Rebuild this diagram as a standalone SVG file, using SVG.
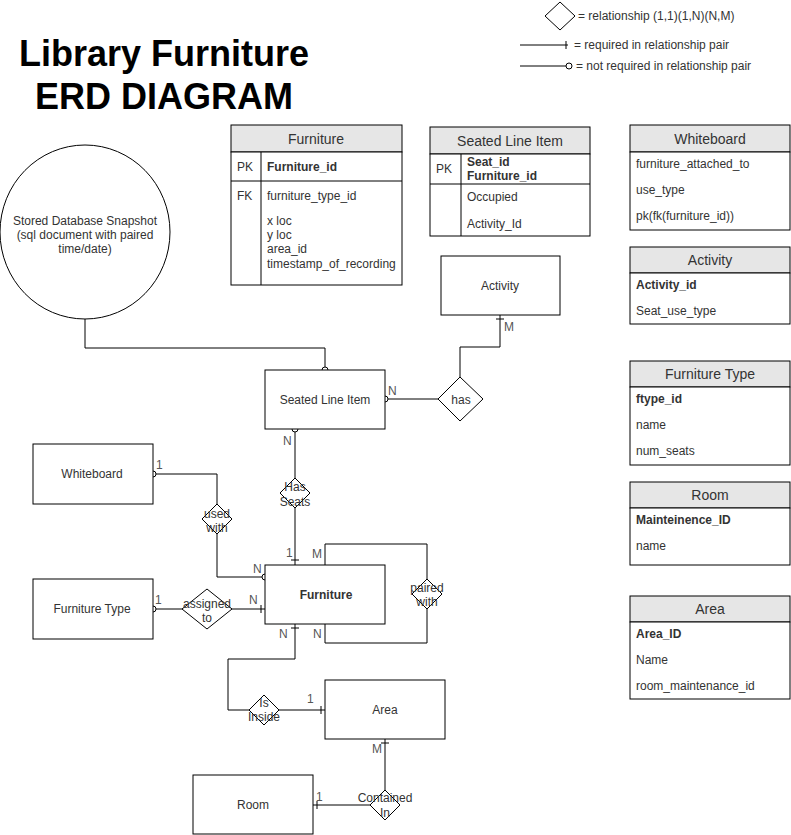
<svg xmlns="http://www.w3.org/2000/svg" width="791" height="835" viewBox="0 0 791 835">
<style>
  text { font-family: "Liberation Sans", Arial, sans-serif; font-size: 12px; fill: #333; }
  .title { font-size: 36px; font-weight: bold; fill: #000; text-anchor: middle; }
  .c { text-anchor: middle; }
  .b { font-weight: bold; }
  .hd { font-size: 14px; text-anchor: middle; }
  .lbl { fill: #555; }
  .box { fill: #fff; stroke: #000; stroke-width: 1; }
  .hdr { fill: #e6e6e6; stroke: #000; stroke-width: 1; }
  .ln { fill: none; stroke: #000; stroke-width: 1; }
  .dia { fill: #fff; stroke: #000; stroke-width: 1; }
  .oc { fill: #fff; stroke: #000; stroke-width: 1; }
</style>

<g id="title">
  <text class="title" x="164" y="66">Library Furniture</text>
  <text class="title" x="164" y="109">ERD DIAGRAM</text>
</g>

<g id="legend">
  <polygon class="dia" points="560,2 575,16 560,30 545,16"/>
  <text x="578" y="20">= relationship (1,1)(1,N)(N,M)</text>
  <line class="ln" x1="520" y1="45" x2="568" y2="45"/>
  <line class="ln" x1="566" y1="41" x2="566" y2="49"/>
  <text x="574" y="49">= required in relationship pair</text>
  <line class="ln" x1="520" y1="66" x2="566" y2="66"/>
  <circle class="oc" cx="569" cy="66" r="3"/>
  <text x="576" y="70">= not required in relationship pair</text>
</g>

<g id="table-furniture">
  <rect class="hdr" x="231" y="125" width="171" height="27"/>
  <text class="hd" x="316" y="144">Furniture</text>
  <rect class="box" x="231" y="152" width="171" height="133"/>
  <line class="ln" x1="231" y1="181" x2="402" y2="181"/>
  <line class="ln" x1="261" y1="152" x2="261" y2="285"/>
  <text x="237" y="171">PK</text>
  <text class="b" x="267" y="171">Furniture_id</text>
  <text x="237" y="200">FK</text>
  <text x="267" y="200">furniture_type_id</text>
  <text x="267" y="225">x loc</text>
  <text x="267" y="239">y loc</text>
  <text x="267" y="253">area_id</text>
  <text x="267" y="268">timestamp_of_recording</text>
</g>

<g id="table-seated">
  <rect class="hdr" x="430" y="127" width="160" height="27"/>
  <text class="hd" x="510" y="146">Seated Line Item</text>
  <rect class="box" x="430" y="154" width="160" height="82"/>
  <line class="ln" x1="430" y1="184" x2="590" y2="184"/>
  <line class="ln" x1="461" y1="154" x2="461" y2="236"/>
  <text x="436" y="173">PK</text>
  <text class="b" x="467" y="166">Seat_id</text>
  <text class="b" x="467" y="180">Furniture_id</text>
  <text x="467" y="201">Occupied</text>
  <text x="467" y="228">Activity_Id</text>
</g>

<g id="table-whiteboard">
  <rect class="hdr" x="630" y="125" width="160" height="27"/>
  <text class="hd" x="710" y="144">Whiteboard</text>
  <rect class="box" x="630" y="152" width="160" height="78"/>
  <text x="636" y="168">furniture_attached_to</text>
  <text x="636" y="194">use_type</text>
  <text x="636" y="220">pk(fk(furniture_id))</text>
</g>

<g id="table-activity">
  <rect class="hdr" x="630" y="247" width="160" height="26"/>
  <text class="hd" x="710" y="265">Activity</text>
  <rect class="box" x="630" y="273" width="160" height="51"/>
  <text class="b" x="636" y="289">Activity_id</text>
  <text x="636" y="315">Seat_use_type</text>
</g>

<g id="table-furniture-type">
  <rect class="hdr" x="630" y="361" width="160" height="26"/>
  <text class="hd" x="710" y="379">Furniture Type</text>
  <rect class="box" x="630" y="387" width="160" height="78"/>
  <text class="b" x="636" y="403">ftype_id</text>
  <text x="636" y="429">name</text>
  <text x="636" y="455">num_seats</text>
</g>

<g id="table-room">
  <rect class="hdr" x="630" y="482" width="160" height="26"/>
  <text class="hd" x="710" y="500">Room</text>
  <rect class="box" x="630" y="508" width="160" height="57"/>
  <text class="b" x="636" y="524">Mainteinence_ID</text>
  <text x="636" y="550">name</text>
</g>

<g id="table-area">
  <rect class="hdr" x="630" y="596" width="160" height="26"/>
  <text class="hd" x="710" y="614">Area</text>
  <rect class="box" x="630" y="622" width="160" height="77"/>
  <text class="b" x="636" y="638">Area_ID</text>
  <text x="636" y="664">Name</text>
  <text x="636" y="690">room_maintenance_id</text>
</g>

<g id="connectors">
  <!-- snapshot to seated line item -->
  <polyline class="ln" points="85,318 85,348 325,348 325,367"/>
  <!-- seated to has -->
  <line class="ln" x1="388" y1="399" x2="438" y2="399"/>
  <!-- has to activity -->
  <polyline class="ln" points="460,377 460,347 500,347 500,315"/>
  <line class="ln" x1="496" y1="319" x2="504" y2="319"/>
  <!-- seated to furniture via Has Seats -->
  <line class="ln" x1="295" y1="432" x2="295" y2="565"/>
  <line class="ln" x1="291" y1="560" x2="299" y2="560"/>
  <!-- whiteboard to furniture via used with -->
  <polyline class="ln" points="156,474 217,474 217,577 262,577"/>
  <!-- furniture type to furniture via assigned to -->
  <line class="ln" x1="156" y1="609" x2="265" y2="609"/>
  <line class="ln" x1="261" y1="605" x2="261" y2="613"/>
  <!-- paired with self loop -->
  <polyline class="ln" points="325,565 325,544 427,544 427,643 325,643 325,624"/>
  <!-- furniture to area via Is Inside -->
  <polyline class="ln" points="295,624 295,659 228,659 228,710 325,710"/>
  <line class="ln" x1="291" y1="628" x2="299" y2="628"/>
  <line class="ln" x1="321" y1="706" x2="321" y2="714"/>
  <!-- area to room via Contained In -->
  <line class="ln" x1="385" y1="739" x2="385" y2="805"/>
  <line class="ln" x1="381" y1="743" x2="389" y2="743"/>
  <line class="ln" x1="313" y1="805" x2="385" y2="805"/>
  <line class="ln" x1="317" y1="801" x2="317" y2="809"/>
  <!-- optional circles -->
  <circle class="oc" cx="325" cy="370" r="3"/>
  <circle class="oc" cx="385" cy="399" r="3"/>
  <circle class="oc" cx="295" cy="429" r="3"/>
  <circle class="oc" cx="153" cy="474" r="3"/>
  <circle class="oc" cx="265" cy="577" r="3"/>
  <circle class="oc" cx="153" cy="609" r="3"/>
  <!-- cardinality labels -->
  <text class="lbl" x="388" y="395">N</text>
  <text class="lbl" x="504" y="331">M</text>
  <text class="lbl" x="283" y="445">N</text>
  <text class="lbl" x="286" y="557">1</text>
  <text class="lbl" x="312" y="558">M</text>
  <text class="lbl" x="156" y="469">1</text>
  <text class="lbl" x="253" y="573">N</text>
  <text class="lbl" x="155" y="604">1</text>
  <text class="lbl" x="249" y="604">N</text>
  <text class="lbl" x="279" y="638">N</text>
  <text class="lbl" x="313" y="638">N</text>
  <text class="lbl" x="307" y="703">1</text>
  <text class="lbl" x="372" y="753">M</text>
  <text class="lbl" x="316" y="801">1</text>
</g>

<g id="node-snapshot">
  <ellipse class="box" cx="85" cy="232" rx="85" ry="87"/>
  <text class="c" x="85" y="225">Stored Database Snapshot</text>
  <text class="c" x="85" y="239">(sql document with paired</text>
  <text class="c" x="85" y="253">time/date)</text>
</g>

<g id="node-activity">
  <rect class="box" x="441" y="256" width="119" height="59"/>
  <text class="c" x="500" y="290">Activity</text>
</g>

<g id="node-seated">
  <rect class="box" x="265" y="370" width="120" height="59"/>
  <text class="c" x="325" y="404">Seated Line Item</text>
</g>

<g id="rel-has">
  <polygon class="dia" points="460,377 483,399 460,421 438,399"/>
  <text class="c" x="461" y="404">has</text>
</g>

<g id="rel-has-seats">
  <polygon class="dia" points="295,478 310,493 295,508 280,493"/>
  <text class="c" x="295" y="491">Has</text>
  <text class="c" x="295" y="506">Seats</text>
</g>

<g id="node-whiteboard">
  <rect class="box" x="33" y="444" width="120" height="60"/>
  <text class="c" x="92" y="478">Whiteboard</text>
</g>

<g id="rel-used-with">
  <polygon class="dia" points="217,504 232,519 217,534 202,519"/>
  <text class="c" x="217" y="518">used</text>
  <text class="c" x="217" y="532">with</text>
</g>

<g id="node-furniture">
  <rect class="box" x="265" y="565" width="120" height="59"/>
  <text class="c b" x="326" y="599">Furniture</text>
</g>

<g id="rel-paired-with">
  <polygon class="dia" points="427,579 442,594 427,609 412,594"/>
  <text class="c" x="427" y="592">paired</text>
  <text class="c" x="427" y="606">with</text>
</g>

<g id="node-furniture-type">
  <rect class="box" x="33" y="579" width="120" height="60"/>
  <text class="c" x="92" y="613">Furniture Type</text>
</g>

<g id="rel-assigned-to">
  <polygon class="dia" points="207,589 232,609 207,629 182,609"/>
  <text class="c" x="207" y="608">assigned</text>
  <text class="c" x="207" y="622">to</text>
</g>

<g id="rel-is-inside">
  <polygon class="dia" points="264,695 279,710 264,725 249,710"/>
  <text class="c" x="264" y="707">Is</text>
  <text class="c" x="264" y="721">Inside</text>
</g>

<g id="node-area">
  <rect class="box" x="325" y="680" width="120" height="59"/>
  <text class="c" x="385" y="714">Area</text>
</g>

<g id="rel-contained-in">
  <polygon class="dia" points="385,790 400,805 385,820 370,805"/>
  <text class="c" x="385" y="802">Contained</text>
  <text class="c" x="385" y="817">In</text>
</g>

<g id="node-room">
  <rect class="box" x="193" y="775" width="120" height="59"/>
  <text class="c" x="253" y="809">Room</text>
</g>
</svg>
